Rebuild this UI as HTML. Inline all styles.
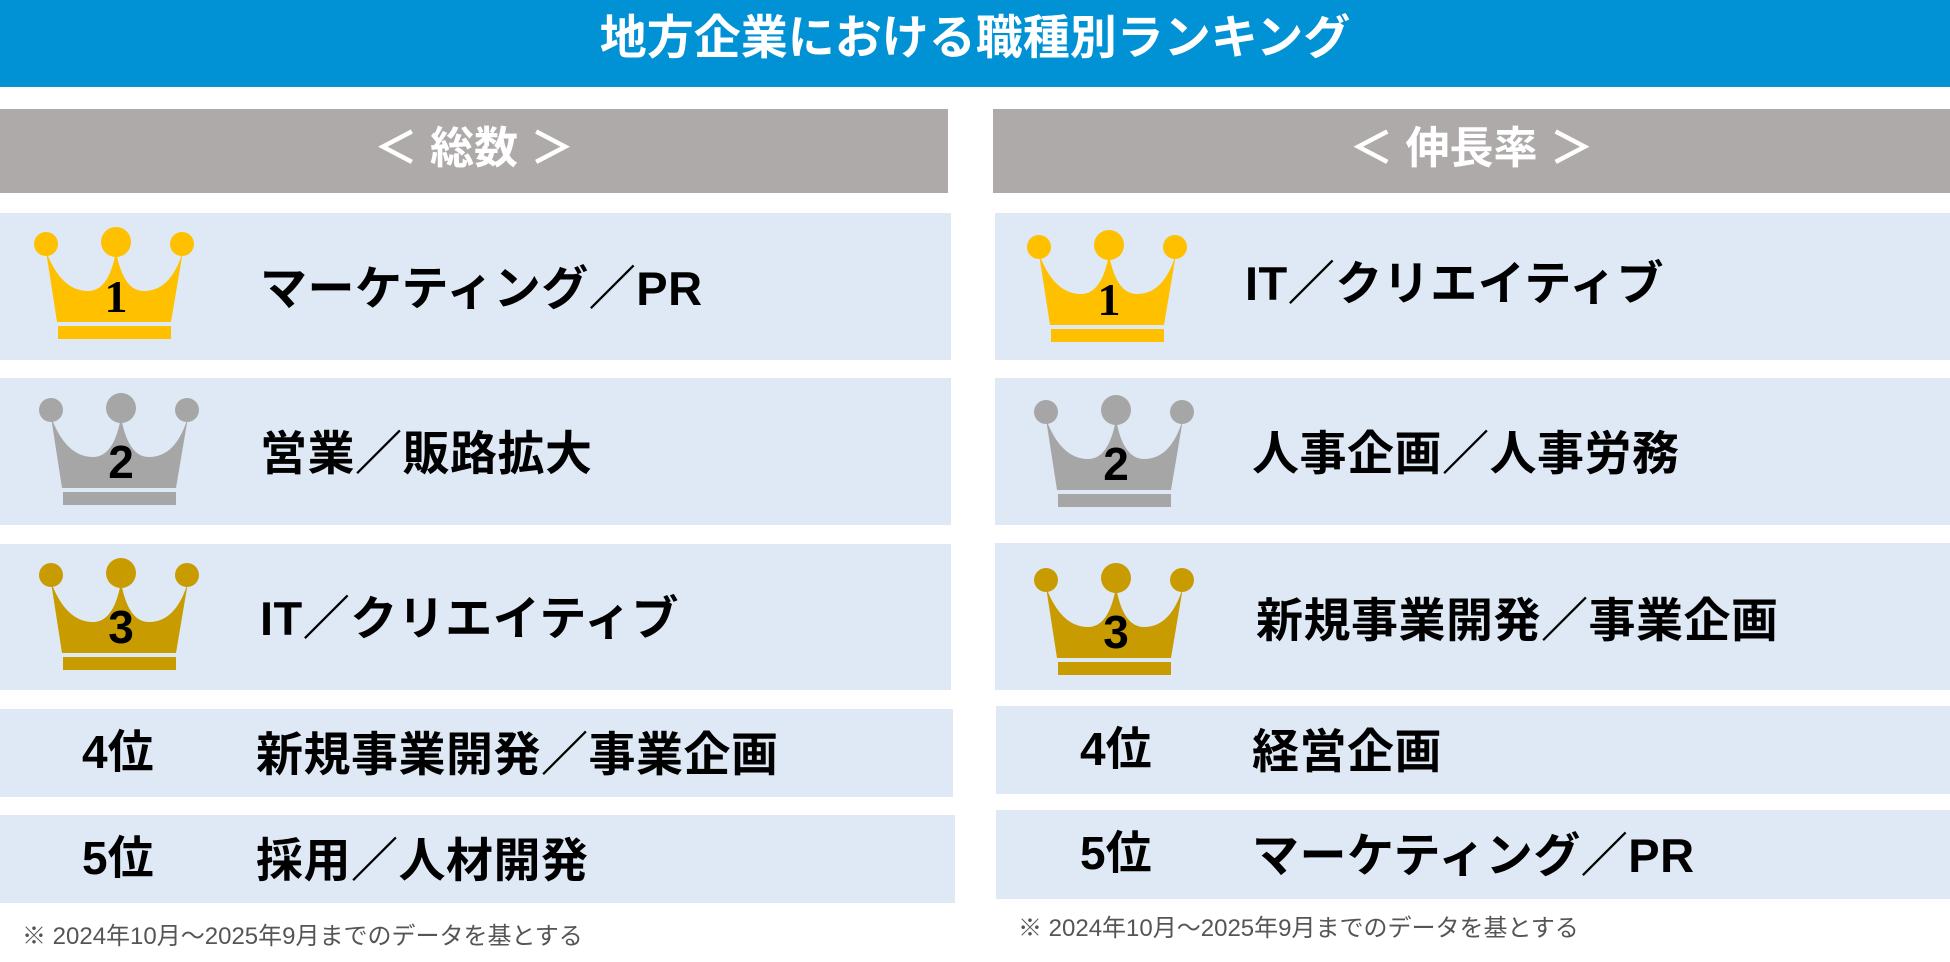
<!DOCTYPE html>
<html><head><meta charset="utf-8"><style>
*{margin:0;padding:0;box-sizing:border-box}
body{width:1950px;height:962px;background:#fff;position:relative;overflow:hidden;font-family:"Liberation Sans","Noto Sans CJK JP",sans-serif}
.abs{position:absolute}
.hdr{left:0;top:0;width:1950px;height:87px;background:#0092d4;color:#fff;font-weight:bold;font-size:47px;text-align:center;line-height:76px}
.gp{top:109px;height:84px;background:#aeaaaa;color:#fff;font-weight:bold;font-size:44px;text-align:center;line-height:80px}
.row{background:#dee9f5}
.t{position:absolute;font-weight:bold;font-size:47px;color:#000;white-space:nowrap;letter-spacing:0.5px}
.rk{position:absolute;font-weight:bold;font-size:46px;color:#000}
.fn{position:absolute;font-size:24px;color:#555;white-space:nowrap}
svg{position:absolute}
</style></head><body>
<div class="abs hdr">地方企業における職種別ランキング</div>
<div class="abs gp" style="left:0;width:948px">＜ 総数 ＞</div>
<div class="abs gp" style="left:993px;width:957px">＜ 伸長率 ＞</div>

<div class="abs row" style="left:0;top:213px;width:951px;height:147px"></div>
<div class="abs row" style="left:0;top:378px;width:951px;height:147px"></div>
<div class="abs row" style="left:0;top:544px;width:951px;height:146px"></div>
<div class="abs row" style="left:0;top:709px;width:953px;height:88px"></div>
<div class="abs row" style="left:0;top:815px;width:955px;height:88px"></div>
<div class="abs row" style="left:995px;top:213px;width:955px;height:147px"></div>
<div class="abs row" style="left:995px;top:378px;width:955px;height:147px"></div>
<div class="abs row" style="left:995px;top:543px;width:955px;height:147px"></div>
<div class="abs row" style="left:996px;top:706px;width:954px;height:88px"></div>
<div class="abs row" style="left:996px;top:810px;width:954px;height:89px"></div>

<svg width="0" height="0"><defs>
<g id="cr"><circle cx="13" cy="17" r="12"/><circle cx="83" cy="15" r="15"/><circle cx="149" cy="17" r="12"/>
<path d="M24,95 L13,24 Q28,64 55,64 Q76,64 83,24 Q90,64 111,64 Q138,64 150,24 L138,95 Z"/>
<rect x="25" y="99" width="113" height="13"/></g></defs></svg>

<svg style="left:33px;top:227px" width="165" height="112" fill="#ffc000"><use href="#cr"/><text x="83" y="85" font-family="Liberation Serif" font-weight="bold" font-size="46" fill="#000" text-anchor="middle">1</text></svg>
<svg style="left:38px;top:393px" width="165" height="112" fill="#a6a6a6"><use href="#cr"/><text x="83" y="85" font-family="Liberation Sans" font-weight="bold" font-size="46" fill="#000" text-anchor="middle">2</text></svg>
<svg style="left:38px;top:558px" width="165" height="112" fill="#c89c00"><use href="#cr"/><text x="83" y="85" font-family="Liberation Sans" font-weight="bold" font-size="46" fill="#000" text-anchor="middle">3</text></svg>

<svg style="left:1026px;top:230px" width="165" height="112" fill="#ffc000"><use href="#cr"/><text x="83" y="85" font-family="Liberation Serif" font-weight="bold" font-size="46" fill="#000" text-anchor="middle">1</text></svg>
<svg style="left:1033px;top:395px" width="165" height="112" fill="#a6a6a6"><use href="#cr"/><text x="83" y="85" font-family="Liberation Sans" font-weight="bold" font-size="46" fill="#000" text-anchor="middle">2</text></svg>
<svg style="left:1033px;top:563px" width="165" height="112" fill="#c89c00"><use href="#cr"/><text x="83" y="85" font-family="Liberation Sans" font-weight="bold" font-size="46" fill="#000" text-anchor="middle">3</text></svg>

<div class="t" style="left:260px;top:250px">マーケティング／PR</div>
<div class="t" style="left:260px;top:415px">営業／販路拡大</div>
<div class="t" style="left:260px;top:580px">IT／クリエイティブ</div>
<div class="rk" style="left:82px;top:716px">4位</div>
<div class="t" style="left:256px;top:716px">新規事業開発／事業企画</div>
<div class="rk" style="left:82px;top:822px">5位</div>
<div class="t" style="left:256px;top:822px">採用／人材開発</div>

<div class="t" style="left:1245px;top:245px">IT／クリエイティブ</div>
<div class="t" style="left:1252px;top:415px">人事企画／人事労務</div>
<div class="t" style="left:1256px;top:582px">新規事業開発／事業企画</div>
<div class="rk" style="left:1080px;top:713px">4位</div>
<div class="t" style="left:1252px;top:713px">経営企画</div>
<div class="rk" style="left:1080px;top:817px">5位</div>
<div class="t" style="left:1252px;top:817px">マーケティング／PR</div>

<div class="fn" style="left:22px;top:916px">※ 2024年10月～2025年9月までのデータを基とする</div>
<div class="fn" style="left:1018px;top:908px">※ 2024年10月～2025年9月までのデータを基とする</div>
</body></html>
